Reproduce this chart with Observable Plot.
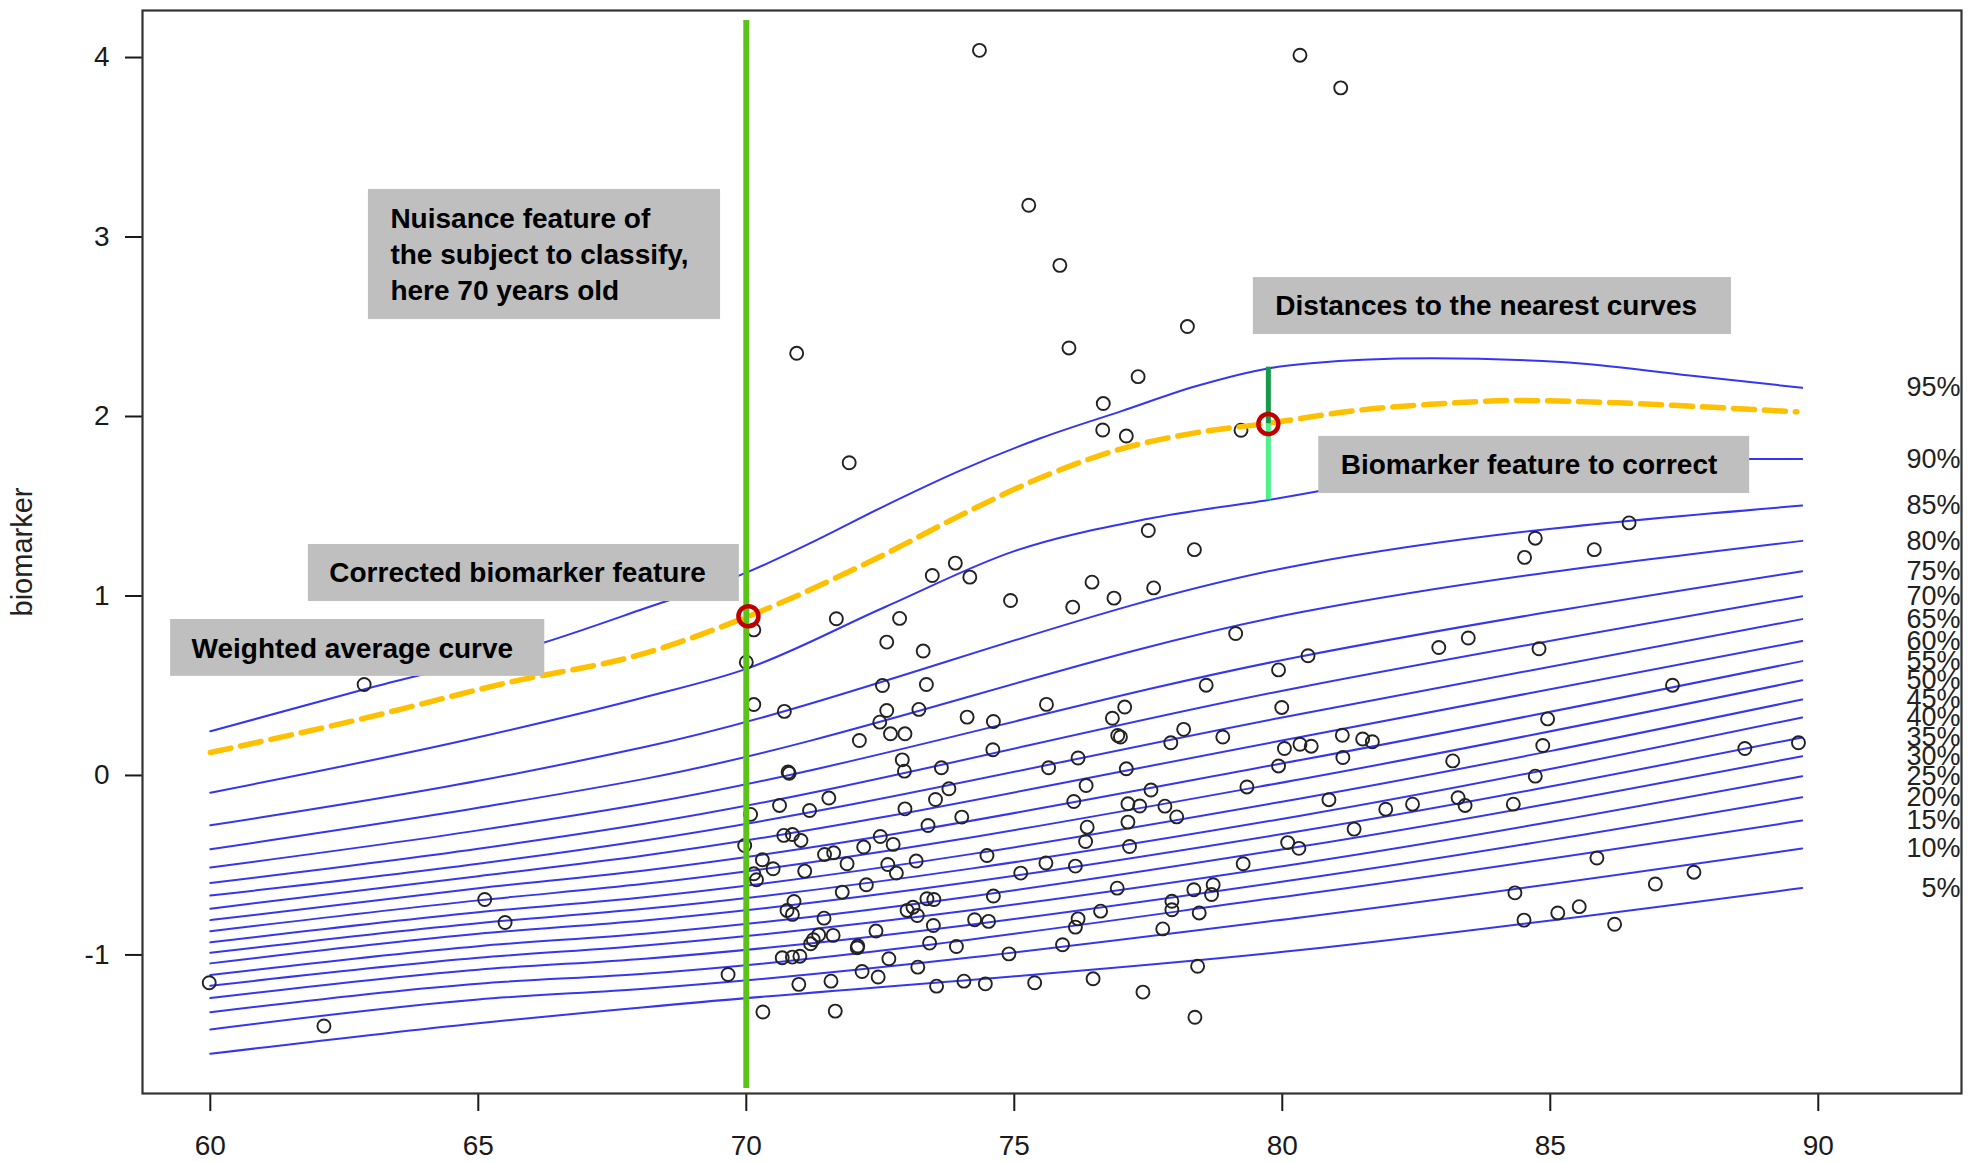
<!DOCTYPE html>
<html><head><meta charset="utf-8">
<script src="https://cdn.jsdelivr.net/npm/d3@7"></script>
<script src="https://cdn.jsdelivr.net/npm/@observablehq/plot@0.6"></script>
<style>
html,body{margin:0;padding:0;background:#fff;}
#chart svg{display:block;}
</style></head><body><div id="chart"></div>
<script>
// ---- axes ----
const xTicks = [60, 65, 70, 75, 80, 85, 90];
const yTicks = [-1, 0, 1, 2, 3, 4];
const xDomain = [58.735, 92.672];
const yDomain = [-1.772, 4.262];

// ---- percentile curves 5%..85% (values read at these ages) ----
const lowerAges = [60, 65, 68.1, 80.34, 89.7];
const q05 = [-1.551, -1.380, -1.291, -0.973, -0.627];
const q10 = [-1.415, -1.248, -1.188, -0.791, -0.407];
const q15 = [-1.319, -1.160, -1.105, -0.663, -0.251];
const q20 = [-1.240, -1.082, -1.021, -0.577, -0.122];
const q25 = [-1.172, -1.016, -0.947, -0.490, -0.004];
const q30 = [-1.112, -0.951, -0.882, -0.396, 0.107];
const q35 = [-1.047, -0.882, -0.808, -0.310, 0.212];
const q40 = [-0.988, -0.823, -0.743, -0.224, 0.323];
const q45 = [-0.930, -0.762, -0.678, -0.128, 0.423];
const q50 = [-0.868, -0.696, -0.604, -0.021, 0.530];
const q55 = [-0.806, -0.628, -0.529, 0.086, 0.637];
const q60 = [-0.742, -0.561, -0.446, 0.214, 0.749];
const q65 = [-0.669, -0.492, -0.362, 0.343, 0.871];
const q70 = [-0.599, -0.408, -0.269, 0.492, 0.999];
const q75 = [-0.513, -0.306, -0.158, 0.663, 1.138];
const q80 = [-0.411, -0.180, -0.019, 0.909, 1.307];
const q85 = [-0.278, -0.030, 0.158, 1.173, 1.504];

// ---- 90% and 95% curves ----
const q90Ages = [60, 65, 68.1, 70, 72.6, 75, 77.5, 79.74, 82, 85, 88.7, 89.7];
const q90 = [-0.096, 0.213, 0.436, 0.594, 0.94, 1.25, 1.43, 1.535, 1.65, 1.73, 1.763, 1.763];
const q95Ages = [60, 63, 66.2, 68.1, 70, 71.3, 72.5, 74, 75.5, 77, 78.4, 79.74, 80.6, 81.5, 82.8, 85.2, 87.6, 89.7];
const q95 = [0.246, 0.49, 0.738, 0.93, 1.13, 1.31, 1.49, 1.70, 1.88, 2.03, 2.17, 2.268, 2.298, 2.316, 2.324, 2.303, 2.228, 2.160];

// ---- weighted average curve (orange dashed) ----
const avgAges = [60, 62.75, 65.5, 68.1, 70.04, 72.5, 74, 75.5, 77, 78.4, 79.74, 81.46, 82.77, 84.4, 86.02, 87.64, 89.6];
const avgCurve = [0.128, 0.31, 0.514, 0.68, 0.887, 1.22, 1.45, 1.66, 1.82, 1.91, 1.962, 2.036, 2.068, 2.089, 2.079, 2.057, 2.026];

const quantileNames = ["5%","10%","15%","20%","25%","30%","35%","40%","45%","50%","55%","60%","65%","70%","75%","80%","85%","90%","95%"];

// ---- subjects (age, biomarker) ----
const subjects = [
[62.87,0.507],[65.12,-0.691],[65.5,-0.819],[59.98,-1.155],[62.12,-1.396],
[74.35,4.04],[80.33,4.013],[81.09,3.831],[75.27,3.177],[75.85,2.842],[70.94,2.352],[76.02,2.382],[78.23,2.501],
[77.31,2.222],[76.66,2.072],[76.65,1.925],[77.09,1.891],[79.23,1.923],[71.92,1.742],[77.50,1.365],[78.36,1.258],[77.60,1.045],
[84.72,1.322],[84.52,1.215],[85.82,1.258],[86.47,1.407],
[73.90,1.183],[73.47,1.114],[74.17,1.105],[74.93,0.975],[76.45,1.077],[76.86,0.988],[76.09,0.938],[71.68,0.873],
[72.86,0.875],[72.62,0.743],[73.30,0.693],[70.14,0.811],[70.00,0.631],[72.54,0.501],[73.36,0.507],[70.14,0.395],
[70.71,0.357],[72.62,0.362],[73.22,0.368],[72.49,0.297],[72.69,0.232],[72.96,0.232],[72.11,0.195],[74.12,0.325],
[74.61,0.301],[75.60,0.396],[76.83,0.319],[77.06,0.381],[76.93,0.223],[76.98,0.214],[74.60,0.143],[72.91,0.087],
[72.95,0.024],[73.64,0.043],[75.64,0.043],[76.19,0.097],[77.09,0.037],[70.78,0.019],[70.80,0.012],[76.34,-0.056],
[73.78,-0.074],[73.53,-0.134],[76.11,-0.145],[77.12,-0.158],[77.34,-0.170],[71.54,-0.126],[70.62,-0.167],[71.18,-0.195],
[70.08,-0.217],[72.96,-0.186],[74.02,-0.232],[73.39,-0.279],[77.12,-0.260],[76.36,-0.288],[76.33,-0.368],[77.15,-0.396],
[70.70,-0.334],[70.86,-0.329],[71.02,-0.362],[69.97,-0.390],[72.50,-0.340],[72.74,-0.384],[72.19,-0.399],[71.46,-0.440],
[71.63,-0.431],[70.30,-0.470],[70.50,-0.520],[71.88,-0.492],[72.64,-0.496],[72.80,-0.544],[73.17,-0.477],[74.49,-0.446],
[75.12,-0.544],[75.59,-0.488],[76.14,-0.505],[71.09,-0.533],[70.14,-0.548],[70.19,-0.581],[72.24,-0.609],[71.79,-0.650],
[76.92,-0.628],[74.61,-0.672],[70.89,-0.702],[70.76,-0.752],[70.86,-0.774],[71.45,-0.795],[73.50,-0.691],[73.37,-0.687],
[73.00,-0.752],[73.11,-0.734],[73.19,-0.780],[73.49,-0.836],[74.26,-0.804],[74.52,-0.813],[76.19,-0.799],[76.14,-0.845],
[76.61,-0.756],[71.35,-0.888],[71.62,-0.891],[71.20,-0.938],[71.25,-0.915],[72.42,-0.867],[72.07,-0.960],[72.08,-0.950],
[73.42,-0.934],[73.92,-0.953],[74.90,-0.994],[75.90,-0.943],[70.67,-1.016],[70.86,-1.012],[71.00,-1.007],[72.66,-1.021],
[69.66,-1.109],[72.16,-1.092],[72.46,-1.123],[73.20,-1.068],[70.98,-1.164],[71.58,-1.146],[73.55,-1.174],[74.06,-1.146],
[74.46,-1.161],[75.38,-1.155],[76.47,-1.133],[70.31,-1.318],[71.66,-1.313],[77.40,-1.207],
[79.13,0.791],[79.93,0.588],[78.58,0.503],[79.99,0.379],[78.16,0.257],[77.92,0.182],[78.89,0.214],[79.93,0.053],
[80.04,0.150],[79.34,-0.064],[80.10,-0.374],[80.31,-0.406],[79.27,-0.492],[78.71,-0.609],[78.68,-0.663],[78.35,-0.637],
[77.94,-0.701],[77.94,-0.748],[78.45,-0.766],[77.77,-0.855],[78.42,-1.063],[78.37,-1.347],[77.55,-0.081],[77.81,-0.171],
[78.03,-0.231],
[80.48,0.667],[82.92,0.713],[83.47,0.766],[84.79,0.706],[87.28,0.503],[84.95,0.315],[84.86,0.167],[84.72,-0.004],
[88.63,0.150],[89.63,0.182],[81.12,0.224],[81.50,0.203],[81.68,0.188],[81.13,0.100],[80.33,0.174],[80.54,0.163],
[83.18,0.081],[80.87,-0.135],[81.93,-0.188],[82.43,-0.160],[83.28,-0.124],[83.41,-0.167],[84.31,-0.160],[81.34,-0.299],
[85.87,-0.460],[87.68,-0.539],[86.96,-0.605],[84.34,-0.654],[85.54,-0.731],[85.14,-0.766],[84.51,-0.806],[86.20,-0.829]
];

// ---- the annotated subject ----
const nuisanceAge = 70;
const nuisanceLineSpan = [-1.744, 4.206];
const correctedPoint = [70.04, 0.887];
const biomarkerPoint = [79.74, 1.958];
const distanceUpper = 2.275;  // 95% curve at that age
const distanceLower = 1.535;  // 90% curve at that age

// ---- annotation boxes ----
const boxLabels = [
  "Nuisance feature of\nthe subject to classify,\nhere 70 years old",
  "Corrected biomarker feature",
  "Weighted average curve",
  "Distances to the nearest curves",
  "Biomarker feature to correct"
];
const boxX1 = [62.95, 61.83, 59.26, 79.46, 80.68];
const boxX2 = [69.52, 69.87, 66.24, 88.38, 88.72];
const boxY1 = [2.540, 0.969, 0.552, 2.457, 1.571];
const boxY2 = [3.265, 1.287, 0.869, 2.774, 1.889];
const textX = [63.36, 62.22, 59.65, 79.87, 81.09];
const textY = [2.912, 1.140, 0.717, 2.628, 1.742];

// ---- build tables ----
const lowerSeries = [q05,q10,q15,q20,q25,q30,q35,q40,q45,q50,q55,q60,q65,q70,q75,q80,q85];
const curveRows = [];
lowerSeries.forEach((vals, i) => vals.forEach((v, j) => curveRows.push({q: quantileNames[i], x: lowerAges[j], y: v})));
q90.forEach((v, j) => curveRows.push({q: "90%", x: q90Ages[j], y: v}));
q95.forEach((v, j) => curveRows.push({q: "95%", x: q95Ages[j], y: v}));
const avgRows = avgCurve.map((v, j) => ({x: avgAges[j], y: v}));
const ends = [...lowerSeries.map(s => s[s.length-1]), q90[q90.length-1], q95[q95.length-1]];
const labelRows = quantileNames.map((n, i) => ({text: n, y: ends[i]}));
const boxes = boxLabels.map((t, i) => ({t, x1: boxX1[i], x2: boxX2[i], y1: boxY1[i], y2: boxY2[i], tx: textX[i], ty: textY[i]}));

const FONT = "'Liberation Sans', Arial, Helvetica, sans-serif";

const chart = Plot.plot({
  width: 1982, height: 1162,
  marginLeft: 142, marginRight: 21, marginTop: 10, marginBottom: 69,
  x: {domain: xDomain},
  y: {domain: yDomain},
  style: {fontFamily: FONT, fontSize: "28px", color: "#1a1a1a", background: "#fff"},
  marks: [
    Plot.line(curveRows, {x: "x", y: "y", z: "q", stroke: "#3535f2", strokeWidth: 2, curve: "monotone-x"}),
    Plot.dot(subjects, {x: d => d[0], y: d => d[1], r: 6.5, stroke: "#222", strokeWidth: 1.9, fill: "none"}),
    Plot.line(avgRows, {x: "x", y: "y", stroke: "#ffc000", strokeWidth: 5.5, strokeDasharray: "21,10", curve: "monotone-x"}),
    Plot.ruleX([nuisanceAge], {y1: nuisanceLineSpan[0], y2: nuisanceLineSpan[1], stroke: "#5cc21a", strokeWidth: 6}),
    Plot.ruleX([biomarkerPoint[0]], {y1: biomarkerPoint[1], y2: distanceUpper, stroke: "#179a48", strokeWidth: 5}),
    Plot.ruleX([biomarkerPoint[0]], {y1: distanceLower, y2: biomarkerPoint[1], stroke: "#4ff08c", strokeWidth: 5}),
    Plot.dot([correctedPoint, biomarkerPoint], {x: d => d[0], y: d => d[1], r: 10, stroke: "#c00000", strokeWidth: 4.5, fill: "none"}),
    Plot.rect(boxes, {x1: "x1", x2: "x2", y1: "y1", y2: "y2", fill: "#bfbfbf"}),
    Plot.text(boxes, {x: "tx", y: "ty", text: "t", textAnchor: "start", lineAnchor: "middle", fontWeight: "bold", fontSize: 28, lineHeight: 1.29, fill: "#000"}),
    Plot.text(labelRows, {y: "y", text: "text", frameAnchor: "right", textAnchor: "end", dx: -1, fontSize: 27, fill: "#222"}),
    Plot.text(["biomarker"], {frameAnchor: "left", textAnchor: "middle", rotate: -90, dx: -120, fontSize: 29, fill: "#222"}),
    Plot.axisX({ticks: xTicks, tickSize: 18, tickPadding: 24, fontSize: 28, label: null, tickFormat: d => String(d), strokeWidth: 2}),
    Plot.axisY({ticks: yTicks, tickSize: 17, tickPadding: 16, fontSize: 28, label: null, tickFormat: d => String(d), strokeWidth: 2}),
    Plot.frame({stroke: "#333", strokeWidth: 2.2})
  ]
});
document.getElementById("chart").appendChild(chart);
</script></body></html>
